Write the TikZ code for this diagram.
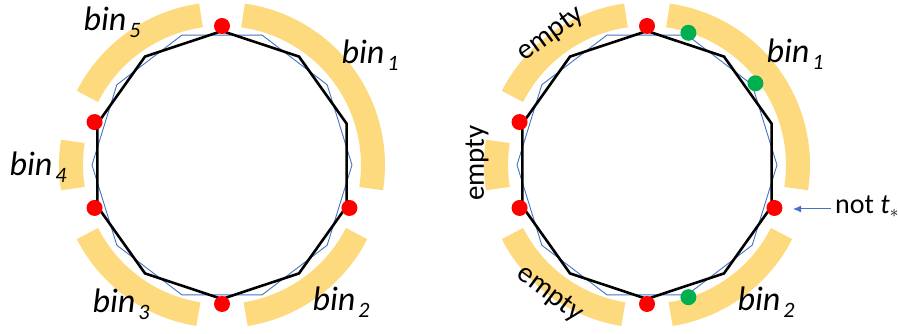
\documentclass[tikz,border=0pt]{standalone}
\usepackage{fontspec}
\setmainfont{Carlito}
\usetikzlibrary{arrows.meta}
\definecolor{bandyellow}{RGB}{253,218,125}
\definecolor{polyblue}{RGB}{68,114,196}
\definecolor{dotred}{RGB}{255,0,0}
\definecolor{dotgreen}{RGB}{0,176,80}
\tikzset{
  band/.style={draw=bandyellow, line width=24pt},
  blackpoly/.style={draw=black, line width=2.6pt, line join=miter},
  bluepoly/.style={draw=polyblue, line width=0.9pt},
  reddot/.style={fill=dotred},
  greendot/.style={fill=dotgreen},
  binlabel/.style={inner sep=0pt, font=\fontsize{34}{35}\selectfont},
  emptylabel/.style={inner sep=0pt, font=\fontsize{29}{30}\selectfont},
  notlabel/.style={inner sep=0pt, font=\fontsize{28}{29}\selectfont},
  pointer/.style={draw=polyblue, line width=1pt, -{Latex[length=8pt,width=7pt]}}
}
\newcommand\binlab[1]{\textit{bin}\kern3pt\raisebox{-7pt}{\fontsize{22}{22}\selectfont\textit{#1}}}
\newcommand\ringbody{%
  \draw[band] (82:151) arc[start angle=82, end angle=-9, radius=151];
  \draw[band] (-27:151) arc[start angle=-27, end angle=-81, radius=151];
  \draw[band] (261:151) arc[start angle=261, end angle=207, radius=151];
  \draw[band] (189:151) arc[start angle=189, end angle=171, radius=151];
  \draw[band] (153:151) arc[start angle=153, end angle=98, radius=151];
  \draw[bluepoly] (0:130 and 136.5) \foreach \a in {36,72,...,324} { -- (\a:130 and 136.5) } -- cycle;
  \draw[blackpoly] (90:131 and 134) \foreach \a in {126,162,...,414} { -- (\a:131 and 134) } -- cycle;
  \foreach \a in {90,162,198,270,342} { \fill[reddot] (\a:134 and 139) circle[radius=8]; }
}
\begin{document}
\begin{tikzpicture}[x=1pt,y=1pt]
\useasboundingbox (0,0) rectangle (898,334);
\begin{scope}[shift={(222,169)}]
  \ringbody
\end{scope}
\begin{scope}[shift={(647,169)}]
  \ringbody
  \foreach \a in {72,36,-72} { \fill[greendot] (\a:134 and 139) circle[radius=8]; }
\end{scope}
% left labels
\node[binlabel] (l5) at (112,312) {\binlab{5}};
\node[binlabel] (l1) at (370,279) {\binlab{1}};
\node[binlabel] (l4) at (38,167) {\binlab{4}};
\node[binlabel] (l3) at (121,30) {\binlab{3}};
\node[binlabel] (l2) at (341,32) {\binlab{2}};
% right labels
\node[binlabel] (r1) at (795,280) {\binlab{1}};
\node[binlabel] (r2) at (766,32) {\binlab{2}};
\node[emptylabel, rotate=36] (e1) at (551,300) {empty};
\node[emptylabel, rotate=90] (e2) at (477,171) {empty};
\node[emptylabel, rotate=-37] (e3) at (550,40) {empty};
\node[notlabel, anchor=west] (nt) at (835,127) {not \textit{t}\raisebox{-4pt}{\fontsize{18}{18}\selectfont$*$}};
\coordinate (tip) at (793,125);
\draw[pointer] (nt.west |- tip) ++(-4,0) -- (tip);
\end{tikzpicture}
\end{document}
